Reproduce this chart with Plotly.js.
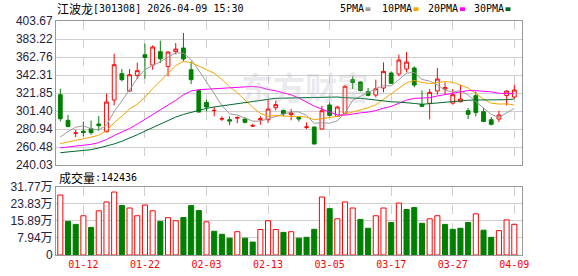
<!DOCTYPE html>
<html><head><meta charset="utf-8">
<script src="https://cdn.plot.ly/plotly-3.0.1.min.js"></script>
<style>html,body{margin:0;padding:0;background:#fff;}#chart{width:578px;height:276px;}</style>
</head><body><div id="chart"></div>
<script>
const dates = ["01-07","01-08","01-09","01-12","01-13","01-14","01-15","01-16","01-19","01-20",
"01-21","01-22","01-23","01-26","01-27","01-28","01-29","01-30","02-02","02-03",
"02-04","02-05","02-06","02-09","02-10","02-11","02-12","02-13","02-24","02-25",
"02-26","02-27","03-02","03-03","03-04","03-05","03-06","03-09","03-10","03-11",
"03-12","03-13","03-16","03-17","03-18","03-19","03-20","03-23","03-24","03-25",
"03-26","03-27","03-30","03-31","04-01","04-02","04-03","04-07","04-08","04-09"];
const dateTicks = ["01-12","01-22","02-03","02-13","03-05","03-17","03-27","04-09"];

const open = [319.9,290.8,276.2,278.5,281.3,286.6,277.9,313.9,343.8,324.1,
341.9,365.4,353.6,368.8,352.1,368.8,372.9,348.3,324.5,311.2,
301.8,292.3,291.5,293.5,292.3,284.4,291.5,291.5,305.2,302.1,
297.2,294.2,282.9,283.2,280.9,308.2,295.3,298.7,337.0,334.3,
323.3,319.5,327.5,344.5,343.4,349.1,350.2,308.9,310.1,324.1,
326.4,310.4,312.0,301.7,318.8,300.6,291.5,292.3,319.1,317.3];
const high = [326.7,296.8,280.1,289.6,290.4,295.7,321.1,366.5,349.1,349.1,
356.3,377.9,376.0,381.3,369.2,378.6,390.0,357.8,325.2,314.2,
305.9,295.3,295.3,295.3,294.2,286.9,295.3,314.2,313.1,302.9,
303.6,294.6,288.5,283.5,307.4,311.2,307.4,330.9,340.8,335.1,
327.5,337.0,356.7,346.4,365.4,368.4,352.1,324.8,326.4,350.2,
333.9,326.4,330.9,304.8,323.7,304.8,294.5,301.7,324.8,331.3];
const low = [289.6,282.8,271.8,272.6,274.5,279.4,277.1,307.8,335.1,323.3,
337.7,338.1,348.3,355.9,340.8,365.8,357.8,332.0,299.8,301.0,
295.3,290.0,285.4,287.7,287.4,283.2,285.8,287.7,302.1,295.3,
290.8,289.6,280.9,263.5,280.5,295.3,294.5,297.9,326.4,323.7,
318.0,316.9,322.6,332.0,340.8,345.3,328.3,305.9,291.9,319.9,
320.3,308.6,311.2,292.3,295.3,289.2,285.1,288.9,307.8,315.4];
const close = [292.6,283.9,276.4,277.0,276.7,284.7,311.6,354.0,337.0,342.6,
347.2,362.3,374.1,360.8,368.4,371.8,360.5,337.0,300.2,305.9,
302.1,292.6,290.0,293.8,288.5,284.7,292.6,303.6,308.6,298.3,
299.1,292.3,283.2,263.9,301.7,296.4,305.9,329.4,333.9,324.8,
319.1,326.7,346.4,332.8,359.3,357.0,330.9,306.7,322.6,337.7,
327.9,319.9,315.0,297.6,299.8,289.6,286.2,296.8,324.1,325.2];

const ma5 = [271.8,278.0,283.0,284.5,281.3,279.7,285.3,300.8,312.8,326.0,
338.5,348.6,352.6,357.4,362.6,367.5,367.1,359.7,347.6,335.1,
321.1,307.6,298.2,296.9,293.4,289.9,289.9,292.6,295.6,297.6,
300.4,300.4,296.3,287.4,288.0,287.5,290.2,299.5,313.5,318.1,
322.6,326.8,330.2,330.0,336.9,344.4,345.3,337.3,335.3,331.0,
325.2,323.0,324.6,319.6,312.0,304.4,297.6,294.0,299.3,304.4];
const ma10 = [264.2,266.5,268.1,269.7,271.4,273.8,278.8,288.0,295.5,303.7,
309.1,317.0,326.7,335.1,344.3,353.0,357.9,356.2,352.5,348.8,
344.3,337.3,328.9,322.2,314.2,305.5,298.7,295.4,296.2,295.5,
295.2,295.2,294.5,291.5,292.8,294.0,295.3,297.9,300.4,303.1,
305.1,308.5,314.8,321.7,327.5,333.5,336.0,333.8,332.6,333.9,
334.8,334.1,331.0,327.5,321.5,314.8,310.3,309.3,309.5,308.2];
const ma20 = [259.5,260.5,261.3,262.3,263.5,265.5,269.0,273.5,277.5,281.5,
286.5,291.8,297.5,303.0,308.3,313.5,319.8,324.1,325.6,326.2,
326.7,327.1,327.8,328.7,329.3,329.3,328.3,325.8,324.4,322.2,
319.7,316.2,311.7,306.9,303.5,299.8,297.0,296.6,298.3,299.3,
300.1,301.8,304.6,306.6,310.1,313.8,315.7,315.8,316.5,318.5,
319.9,321.3,322.9,324.6,324.5,324.2,323.2,321.5,321.0,321.1];
const ma30 = [254.0,254.8,255.5,256.3,257.5,259.3,261.5,264.0,267.0,270.5,
274.4,278.5,282.5,286.5,291.0,294.5,297.5,300.0,302.3,304.4,
306.0,307.2,308.3,309.5,310.6,311.5,312.8,314.5,315.8,316.0,
316.2,316.5,316.7,316.3,317.1,317.5,317.3,316.5,316.4,315.8,
314.9,313.7,312.7,311.8,311.5,311.0,310.0,309.0,309.8,310.8,
311.7,312.6,313.4,313.6,313.9,314.1,313.9,313.7,314.2,315.1];

// volume in 万 shares
const volume = [27.8,15.6,14.2,18.2,12.8,20.5,24.6,29.2,22.9,21.8,
18.2,23.2,20.5,15.6,17.3,15.9,17.4,22.9,20.6,15.4,
11.0,9.6,7.8,10.8,7.8,6.0,11.8,15.9,11.8,10.5,
10.8,7.8,8.2,11.9,26.9,21.5,16.8,24.6,21.8,16.5,
12.4,18.2,21.8,15.1,24.1,21.1,22.0,14.7,16.8,18.2,
14.2,11.9,12.4,15.1,19.1,11.5,8.2,11.3,16.3,14.24];
// 1 = up (red hollow), 0 = down (green filled)
const volDir = [1,0,0,1,0,1,1,1,0,1,
1,1,1,0,1,1,0,0,0,1,
0,0,0,1,0,0,1,1,1,0,
1,0,0,0,1,0,1,1,1,0,
0,1,1,0,1,0,0,0,1,1,
0,0,0,0,1,0,0,1,1,1];

const priceTicks = [240.03,260.48,280.94,301.40,321.85,342.31,362.76,383.22,403.67];
const volTicks = [0,7.94,15.89,23.83,31.77];
const volTickText = ["0","7.94万","15.89万","23.83万","31.77万"];

const RED = '#ff0000', GREEN = '#008000';
const L = 56, R = 522, T = 21, B = 255;
const px = x => (x - L) / (R - L);
const py = y => (B - y) / (B - T);

const traces = [
  {type:'candlestick', x:dates, open:open, high:high, low:low, close:close,
   xaxis:'x2', yaxis:'y', whiskerwidth:0,
   increasing:{line:{color:RED,width:1}, fillcolor:'#ffffff'},
   decreasing:{line:{color:GREEN,width:1}, fillcolor:GREEN},
   hoverinfo:'skip'},
  {type:'scatter', mode:'lines', x:dates, y:ma5, xaxis:'x2', yaxis:'y', line:{color:'#9a9a9a',width:1}, hoverinfo:'skip'},
  {type:'scatter', mode:'lines', x:dates, y:ma10, xaxis:'x2', yaxis:'y', line:{color:'#f5a500',width:1}, hoverinfo:'skip'},
  {type:'scatter', mode:'lines', x:dates, y:ma20, xaxis:'x2', yaxis:'y', line:{color:'#ff00ff',width:1}, hoverinfo:'skip'},
  {type:'scatter', mode:'lines', x:dates, y:ma30, xaxis:'x2', yaxis:'y', line:{color:'#006a2e',width:1}, hoverinfo:'skip'},
  {type:'bar', x:dates, y:volume, xaxis:'x', yaxis:'y2', width:0.66,
   marker:{color:volDir.map(d=>d?'#ffffff':GREEN), line:{color:volDir.map(d=>d?RED:GREEN), width:1}},
   hoverinfo:'skip'}
];

const axisFont = {family:'Liberation Sans, Arial, Noto Sans CJK SC', size:12, color:'#1e2240'};
const xCommon = {type:'category', categoryorder:'array', categoryarray:dates, range:[-0.56,60],
  showgrid:true, gridcolor:'#cfcfcf', griddash:'dash', gridwidth:1, zeroline:false,
  showline:true, mirror:true, linecolor:'#999999', linewidth:1, ticks:'',
  tickvals:dateTicks, ticktext:dateTicks, rangeslider:{visible:false}, fixedrange:true};

const annotations = [
  {text:'江波龙', x:px(55), y:py(8.5), xref:'paper', yref:'paper', xanchor:'left', yanchor:'middle', showarrow:false,
   font:{family:'Noto Sans CJK SC', size:12, color:'#000'}},
  {text:'[301308] 2026-04-09 15:30', x:px(91), y:py(8.5), xref:'paper', yref:'paper', xanchor:'left', yanchor:'middle', showarrow:false,
   font:{family:'DejaVu Sans Mono', size:10, color:'#000'}},
  {text:'成交量', x:px(57), y:py(177), xref:'paper', yref:'paper', xanchor:'left', yanchor:'middle', showarrow:false,
   font:{family:'Noto Sans CJK SC', size:12, color:'#000'}},
  {text:':142436', x:px(93), y:py(177), xref:'paper', yref:'paper', xanchor:'left', yanchor:'middle', showarrow:false,
   font:{family:'DejaVu Sans Mono', size:10, color:'#000'}},
  {text:'东方财富', x:px(305), y:py(86), xref:'paper', yref:'paper', xanchor:'center', yanchor:'middle', showarrow:false,
   font:{family:'Noto Sans CJK SC', size:32, color:'rgba(180,180,195,0.28)', weight:'bold'}}
];
const legendItems = [['5PMA',338,365.5,'#a0a0a0'],['10PMA',380,413.5,'#f5a500'],['20PMA',425.5,460,'#ff00ff'],['30PMA',471.5,505.5,'#006a2e']];
const shapes = [];
legendItems.forEach(([t,tx,sx,c])=>{
  annotations.push({text:t, x:px(tx), y:py(8.5), xref:'paper', yref:'paper', xanchor:'left', yanchor:'middle', showarrow:false,
    font:{family:'DejaVu Sans Mono', size:10, color:'#000'}});
  shapes.push({type:'rect', xref:'paper', yref:'paper', x0:px(sx), x1:px(sx+5), y0:py(11), y1:py(7.3), fillcolor:c, line:{width:0}});
});

const layout = {
  width:578, height:276, margin:{l:56, r:56, t:21, b:21, pad:0},
  paper_bgcolor:'#ffffff', plot_bgcolor:'#ffffff', showlegend:false, hovermode:false, bargap:0.3,
  xaxis: Object.assign({}, xCommon, {anchor:'y2', showticklabels:true,
    tickfont:{family:'DejaVu Sans Mono', size:10, color:RED}}),
  xaxis2: Object.assign({}, xCommon, {anchor:'y', showticklabels:false}),
  yaxis: {domain:[py(165),1], range:[240.03,403.67], tickvals:priceTicks, ticktext:priceTicks.map(v=>v.toFixed(2)),
    showgrid:true, gridcolor:'#cfcfcf', gridwidth:1, zeroline:false, showline:true, mirror:true, linecolor:'#999999',
    ticks:'', tickfont:axisFont, fixedrange:true},
  yaxis2: {domain:[0,py(186.5)], range:[0,31.77], tickvals:volTicks, ticktext:volTickText,
    showgrid:true, gridcolor:'#cfcfcf', gridwidth:1, zeroline:false, showline:true, mirror:true, linecolor:'#999999',
    ticks:'', tickfont:axisFont, fixedrange:true},
  annotations:annotations, shapes:shapes
};
Plotly.newPlot('chart', traces, layout, {displayModeBar:false, staticPlot:true});
</script></body></html>
